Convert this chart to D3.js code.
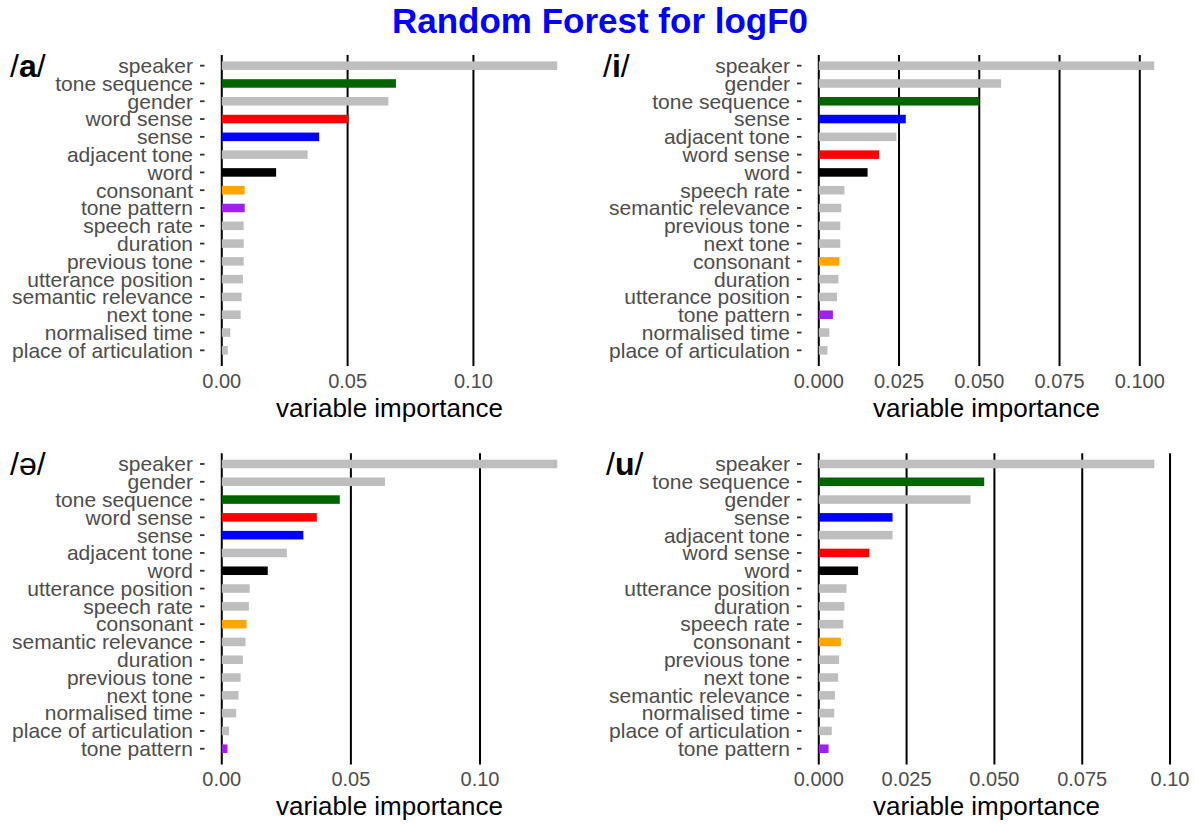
<!DOCTYPE html>
<html>
<head>
<meta charset="utf-8">
<script src="https://cdn.jsdelivr.net/npm/d3@7"></script>
<style>
  html, body { margin: 0; padding: 0; background: #ffffff; }
  svg { display: block; font-family: "Liberation Sans", Arial, Helvetica, sans-serif; }
</style>
</head>
<body>
<svg id="chart" width="1195" height="825"></svg>
<script>
// ---------------- DATA ----------------
const chartTitle = "Random Forest for logF0";
const axisTitle = "variable importance";

// /a/
const aVariables = ["speaker","tone sequence","gender","word sense","sense","adjacent tone","word",
  "consonant","tone pattern","speech rate","duration","previous tone","utterance position",
  "semantic relevance","next tone","normalised time","place of articulation"];
const aImportance = [0.1333,0.0692,0.0662,0.0503,0.0387,0.0341,0.0216,
  0.0091,0.0091,0.0087,0.0087,0.0087,0.0084,0.0079,0.0075,0.0034,0.0024];
const aTicks = [0, 0.05, 0.10];
const aTickLabels = ["0.00","0.05","0.10"];

// /i/
const iVariables = ["speaker","gender","tone sequence","sense","adjacent tone","word sense","word",
  "speech rate","semantic relevance","previous tone","next tone","consonant","duration",
  "utterance position","tone pattern","normalised time","place of articulation"];
const iImportance = [0.1045,0.0568,0.0499,0.0271,0.0242,0.0188,0.0152,
  0.0080,0.0070,0.0067,0.0067,0.0064,0.0061,0.0057,0.0044,0.0033,0.0027];
const iTicks = [0, 0.025, 0.05, 0.075, 0.10];
const iTickLabels = ["0.000","0.025","0.050","0.075","0.100"];

// /ə/
const schwaVariables = ["speaker","gender","tone sequence","word sense","sense","adjacent tone","word",
  "utterance position","speech rate","consonant","semantic relevance","duration","previous tone",
  "next tone","normalised time","place of articulation","tone pattern"];
const schwaImportance = [0.1299,0.0632,0.0457,0.0368,0.0316,0.0252,0.0178,
  0.0108,0.0105,0.0096,0.0092,0.0082,0.0073,0.0065,0.0056,0.0028,0.0022];
const schwaTicks = [0, 0.05, 0.10];
const schwaTickLabels = ["0.00","0.05","0.10"];

// /u/
const uVariables = ["speaker","tone sequence","gender","sense","adjacent tone","word sense","word",
  "utterance position","duration","speech rate","consonant","previous tone","next tone",
  "semantic relevance","normalised time","place of articulation","tone pattern"];
const uImportance = [0.0955,0.0471,0.0432,0.0210,0.0210,0.0144,0.0112,
  0.0079,0.0073,0.0070,0.0063,0.0058,0.0055,0.0046,0.0044,0.0037,0.0028];
const uTicks = [0, 0.025, 0.05, 0.075, 0.10];
const uTickLabels = ["0.000","0.025","0.050","0.075","0.10"];

const panelVowels = ["a","i","ə","u"];

// -------------- STYLE / LAYOUT --------------
const highlight = {
  "tone sequence": "#006400",
  "word sense": "#ff0000",
  "sense": "#0000ff",
  "word": "#000000",
  "consonant": "#ffa500",
  "tone pattern": "#a020f0"
};
const defaultFill = "#bebebe";

const panels = [
  { vowel: panelVowels[0], boldVowel: true,  vars: aVariables, vals: aImportance, ticks: aTicks, tickLabels: aTickLabels,
    x0: 205, x1: 574, y0: 55, y1: 361, tagX: 10 },
  { vowel: panelVowels[1], boldVowel: true,  vars: iVariables, vals: iImportance, ticks: iTicks, tickLabels: iTickLabels,
    x0: 802, x1: 1171, y0: 55, y1: 361, tagX: 603 },
  { vowel: panelVowels[2], boldVowel: false, vars: schwaVariables, vals: schwaImportance, ticks: schwaTicks, tickLabels: schwaTickLabels,
    x0: 205, x1: 574, y0: 453.3, y1: 759.4, tagX: 10 },
  { vowel: panelVowels[3], boldVowel: true,  vars: uVariables, vals: uImportance, ticks: uTicks, tickLabels: uTickLabels,
    x0: 802, x1: 1171, y0: 453.3, y1: 759.4, tagX: 606 }
];

const svg = d3.select("#chart");
svg.append("rect").attr("width", 1195).attr("height", 825).attr("fill", "#ffffff");

svg.append("text")
  .attr("x", 600).attr("y", 33)
  .attr("text-anchor", "middle")
  .attr("font-size", 35).attr("font-weight", "bold")
  .attr("fill", "#0000ff")
  .text(chartTitle);

panels.forEach(p => {
  const g = svg.append("g");
  const M = d3.max(p.vals);
  const x = d3.scaleLinear().domain([-0.05 * M, 1.05 * M]).range([p.x0, p.x1]);
  const y = d3.scalePoint().domain(p.vars).range([p.y0, p.y1]).padding(0.6);
  const step = y.step();
  const barH = step * 0.48;

  // vertical gridlines (black) incl. tick extension
  g.selectAll("line.grid").data(p.ticks).enter().append("line")
    .attr("x1", d => x(d)).attr("x2", d => x(d))
    .attr("y1", p.y0).attr("y2", p.y1 + 5)
    .attr("stroke", "#000000").attr("stroke-width", 2);

  // bars
  const rows = p.vars.map((v, i) => ({ v, val: p.vals[i] }));
  g.selectAll("rect.bar").data(rows).enter().append("rect")
    .attr("x", x(0))
    .attr("y", d => y(d.v) - barH / 2)
    .attr("width", d => x(d.val) - x(0))
    .attr("height", barH)
    .attr("fill", d => highlight[d.v] || defaultFill);

  // y axis ticks + labels
  g.selectAll("line.ytick").data(p.vars).enter().append("line")
    .attr("x1", p.x0 - 5).attr("x2", p.x0 - 0.5)
    .attr("y1", d => y(d)).attr("y2", d => y(d))
    .attr("stroke", "#333333").attr("stroke-width", 1.8);
  g.selectAll("text.ylab").data(p.vars).enter().append("text")
    .attr("x", p.x0 - 12).attr("y", d => y(d))
    .attr("dy", "0.35em")
    .attr("text-anchor", "end")
    .attr("font-size", 21).attr("fill", "#4d4d4d")
    .text(d => d);

  // x tick labels
  g.selectAll("text.xlab").data(p.ticks).enter().append("text")
    .attr("x", d => x(d)).attr("y", p.y1 + 27)
    .attr("text-anchor", "middle")
    .attr("font-size", 20).attr("fill", "#4d4d4d")
    .text((d, i) => p.tickLabels[i]);

  // axis title
  g.append("text")
    .attr("x", (p.x0 + p.x1) / 2).attr("y", p.y1 + 56)
    .attr("text-anchor", "middle")
    .attr("font-size", 26).attr("fill", "#000000")
    .text(axisTitle);

  // panel tag
  const tag = g.append("text")
    .attr("x", p.tagX).attr("y", p.y0 + 22)
    .attr("font-size", 32).attr("fill", "#000000");
  tag.append("tspan").text("/");
  tag.append("tspan").attr("font-weight", p.boldVowel ? "bold" : "normal").text(p.vowel);
  tag.append("tspan").text("/");
});
</script>
</body>
</html>
